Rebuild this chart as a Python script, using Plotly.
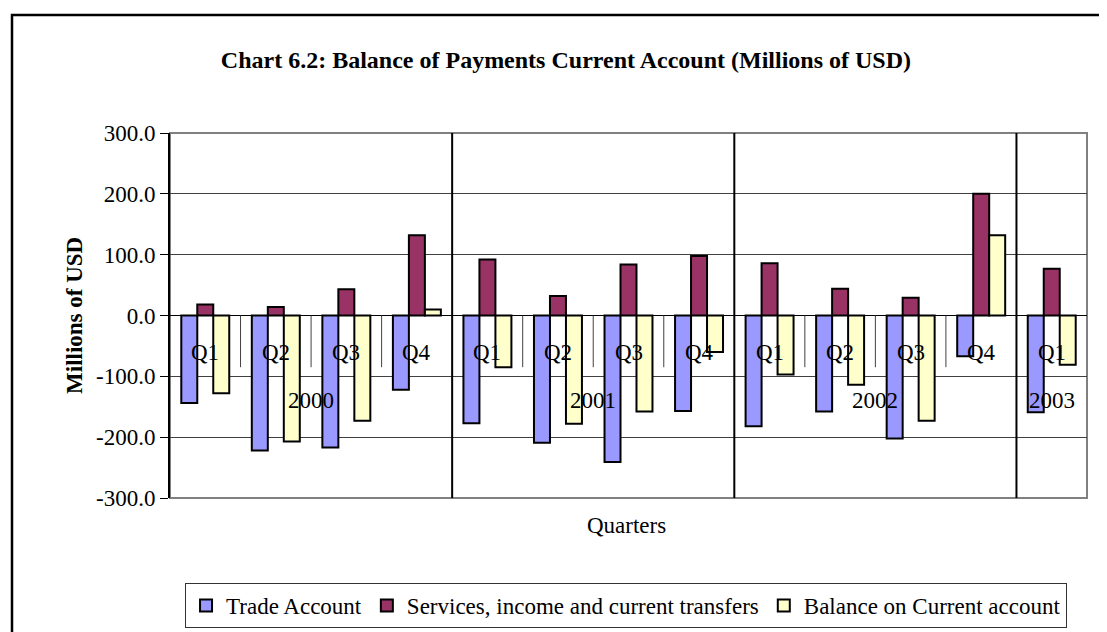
import plotly.graph_objects as go

quarters = ["Q1", "Q2", "Q3", "Q4", "Q1", "Q2", "Q3", "Q4", "Q1", "Q2", "Q3", "Q4", "Q1"]
years = ["2000", "2000", "2000", "2000", "2001", "2001", "2001", "2001",
         "2002", "2002", "2002", "2002", "2003"]
trade = [-144, -222, -217, -122, -177, -209, -241, -157, -182, -158, -202, -67, -159]
services = [18, 14, 43, 132, 92, 32, 84, 98, 86, 44, 29, 200, 77]
balance = [-128, -207, -173, 10, -85, -178, -158, -60, -97, -114, -173, 132, -81]
y_ticks = [-300, -200, -100, 0, 100, 200, 300]

idx = list(range(len(quarters)))
serif = "Liberation Serif, Times New Roman, serif"

fig = go.Figure()
fig.add_trace(go.Bar(x=idx, y=trade, name="Trade Account",
                     marker=dict(color="#9999FF", line=dict(color="black", width=2))))
fig.add_trace(go.Bar(x=idx, y=services, name="Services, income and current transfers",
                     marker=dict(color="#993366", line=dict(color="black", width=2))))
fig.add_trace(go.Bar(x=idx, y=balance, name="Balance on Current account",
                     marker=dict(color="#FFFFCC", line=dict(color="black", width=2))))

# category labels sit inside the plot, next to the zero line
annotations = []
for i, q in enumerate(quarters):
    annotations.append(dict(x=i, y=-60, xref="x", yref="y", text=q, showarrow=False,
                            font=dict(size=23, color="black", family=serif)))
for yr in sorted(set(years)):
    pos = [i for i, y in enumerate(years) if y == yr]
    annotations.append(dict(x=sum(pos) / len(pos), y=-139, xref="x", yref="y", text=yr,
                            showarrow=False, font=dict(size=23, color="black", family=serif)))

annotations.append(dict(x=0.498, y=-0.115, xref="paper", yref="paper", text="Quarters",
                        showarrow=False, font=dict(size=23, color="black", family=serif)))
annotations.append(dict(x=-0.12, y=0.5, xref="paper", yref="paper", text="<b>Millions of USD</b>",
                        textangle=-90, showarrow=False,
                        font=dict(size=23, color="black", family=serif)))

shapes = []
# outer chart border
shapes.append(dict(type="rect", xref="paper", yref="paper", x0=-0.1723, x1=1.05, y0=-0.45, y1=1.3233,
                   line=dict(color="black", width=2.5), layer="below"))
# plot area frame
shapes.append(dict(type="rect", xref="paper", yref="paper", x0=0, x1=1, y0=0, y1=1,
                   line=dict(color="#808080", width=2), layer="below"))
for i in range(len(years) - 1):
    if years[i] != years[i + 1]:
        shapes.append(dict(type="line", xref="x", yref="y", x0=i + 0.5, x1=i + 0.5, y0=-300, y1=305,
                           line=dict(color="black", width=2)))
    else:
        shapes.append(dict(type="line", xref="x", yref="y", x0=i + 0.5, x1=i + 0.5, y0=0, y1=-85,
                           line=dict(color="#404040", width=1)))

# the page body adds an 8px offset, so margins are 8px smaller than the target positions
fig.update_layout(
    width=1107, height=632,
    margin=dict(l=162, r=28, t=125, b=142),
    paper_bgcolor="white", plot_bgcolor="white",
    barmode="group", bargap=0.32, bargroupgap=0,
    title=dict(text="<b>Chart 6.2: Balance of Payments Current Account (Millions of USD)</b>",
               x=0.504, xanchor="center", y=0.918, yanchor="middle",
               font=dict(size=24, color="black", family=serif)),
    font=dict(family=serif, color="black", size=23),
    showlegend=True,
    legend=dict(orientation="h", x=0.0164, xanchor="left", y=-0.2329, yanchor="top",
                bordercolor="#333333", borderwidth=1, bgcolor="white",
                font=dict(size=23, family=serif, color="black"),
                itemwidth=30, tracegroupgap=0),
    annotations=annotations,
    shapes=shapes,
)
fig.update_xaxes(range=[-0.5, len(quarters) - 0.5], showticklabels=False, showgrid=False,
                 zeroline=False, showline=False, ticks="")
fig.update_yaxes(range=[-300, 300], tickmode="array", tickvals=y_ticks,
                 ticktext=[f"{v:.1f}" for v in y_ticks], showgrid=True,
                 gridcolor="#404040", gridwidth=1, zeroline=True, zerolinecolor="black",
                 zerolinewidth=1, showline=True, linecolor="black", linewidth=2,
                 ticks="outside", ticklen=8, tickcolor="black",
                 tickfont=dict(size=23, family=serif, color="black"))

fig.write_html("out.html")
